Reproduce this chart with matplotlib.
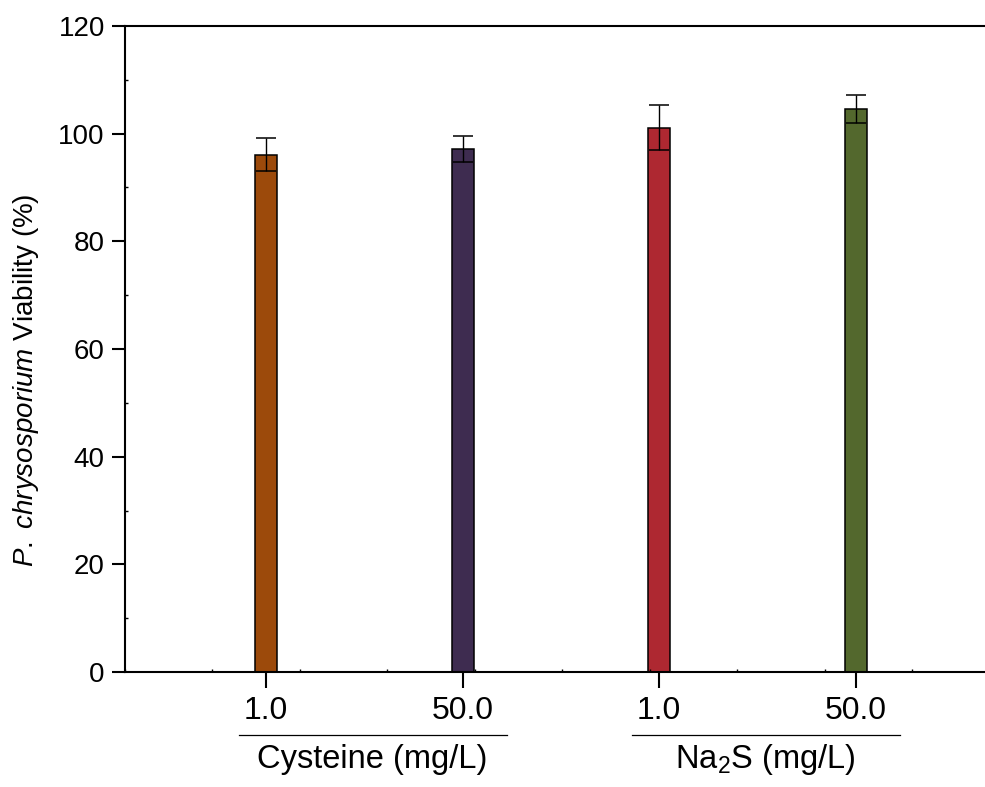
import numpy as np
import matplotlib
matplotlib.use("Agg")
import matplotlib.pyplot as plt
from matplotlib.transforms import blended_transform_factory

plt.rcParams['font.family'] = ['Liberation Sans', 'DejaVu Sans']
plt.rcParams['mathtext.fontset'] = 'custom'
plt.rcParams['mathtext.rm'] = 'Liberation Sans'
plt.rcParams['mathtext.it'] = 'Liberation Sans:italic'
plt.rcParams['mathtext.default'] = 'regular'

# data
conc_labels = ["1.0", "50.0", "1.0", "50.0"]
viability = [96.1, 97.1, 101.1, 104.6]
viability_err = [3.0, 2.4, 4.2, 2.6]
bar_colors = ["#9C4A0B", "#3E2C50", "#AE2831", "#53682D"]
groups = ["Cysteine (mg/L)", "Na$_2$S (mg/L)"]

x = np.arange(1, len(viability) + 1)

fig = plt.figure(figsize=(9.85, 7.87), dpi=100)
ax = fig.add_axes([0.1269, 0.1461, 0.8731, 0.8209])

ax.bar(x, viability, width=0.112, color=bar_colors, edgecolor="black", linewidth=1.1,
       yerr=viability_err, capsize=7,
       error_kw=dict(ecolor="black", elinewidth=1.0, capthick=1.1))

ax.set_ylim(0, 120)
ax.set_xlim(0.282, 4.659)

ax.spines['right'].set_visible(False)
for s in ['left', 'bottom', 'top']:
    ax.spines[s].set_linewidth(1.5)

ax.set_yticks(np.arange(0, 121, 20))
ax.set_yticks(np.arange(10, 120, 20), minor=True)
ax.tick_params(axis='y', which='major', direction='out', length=9.5, width=1.5,
               labelsize=20, pad=5)
ax.tick_params(axis='y', which='minor', direction='in', length=2, width=1)

ax.set_xticks(x)
ax.set_xticklabels(conc_labels)
x0, x1 = ax.get_xlim()
ax.set_xticks(np.arange(x0, x1, 0.4453), minor=True)
ax.tick_params(axis='x', which='major', direction='out', length=11.5, width=1.5,
               labelsize=23, pad=6)
ax.tick_params(axis='x', which='minor', direction='in', length=2, width=1)
ax.tick_params(top=False, which='both')

ax.set_ylabel(r"$\mathit{P.\ chrysosporium}$ Viability (%)", fontsize=20)
ax.yaxis.set_label_coords(-0.098, 0.452)

# group lines and labels under the tick labels
trans = blended_transform_factory(ax.transData, ax.transAxes)
for i, name in enumerate(groups):
    left = x[2 * i] - 0.14
    right = x[2 * i + 1] + 0.225
    ax.plot([left, right], [-0.098, -0.098], color="black", linewidth=0.9,
            transform=trans, clip_on=False)
    ax.text((left + right) / 2, -0.1486, name, transform=trans, ha="center",
            va="baseline", fontsize=23.5)

fig.savefig("out.png", dpi=100)
